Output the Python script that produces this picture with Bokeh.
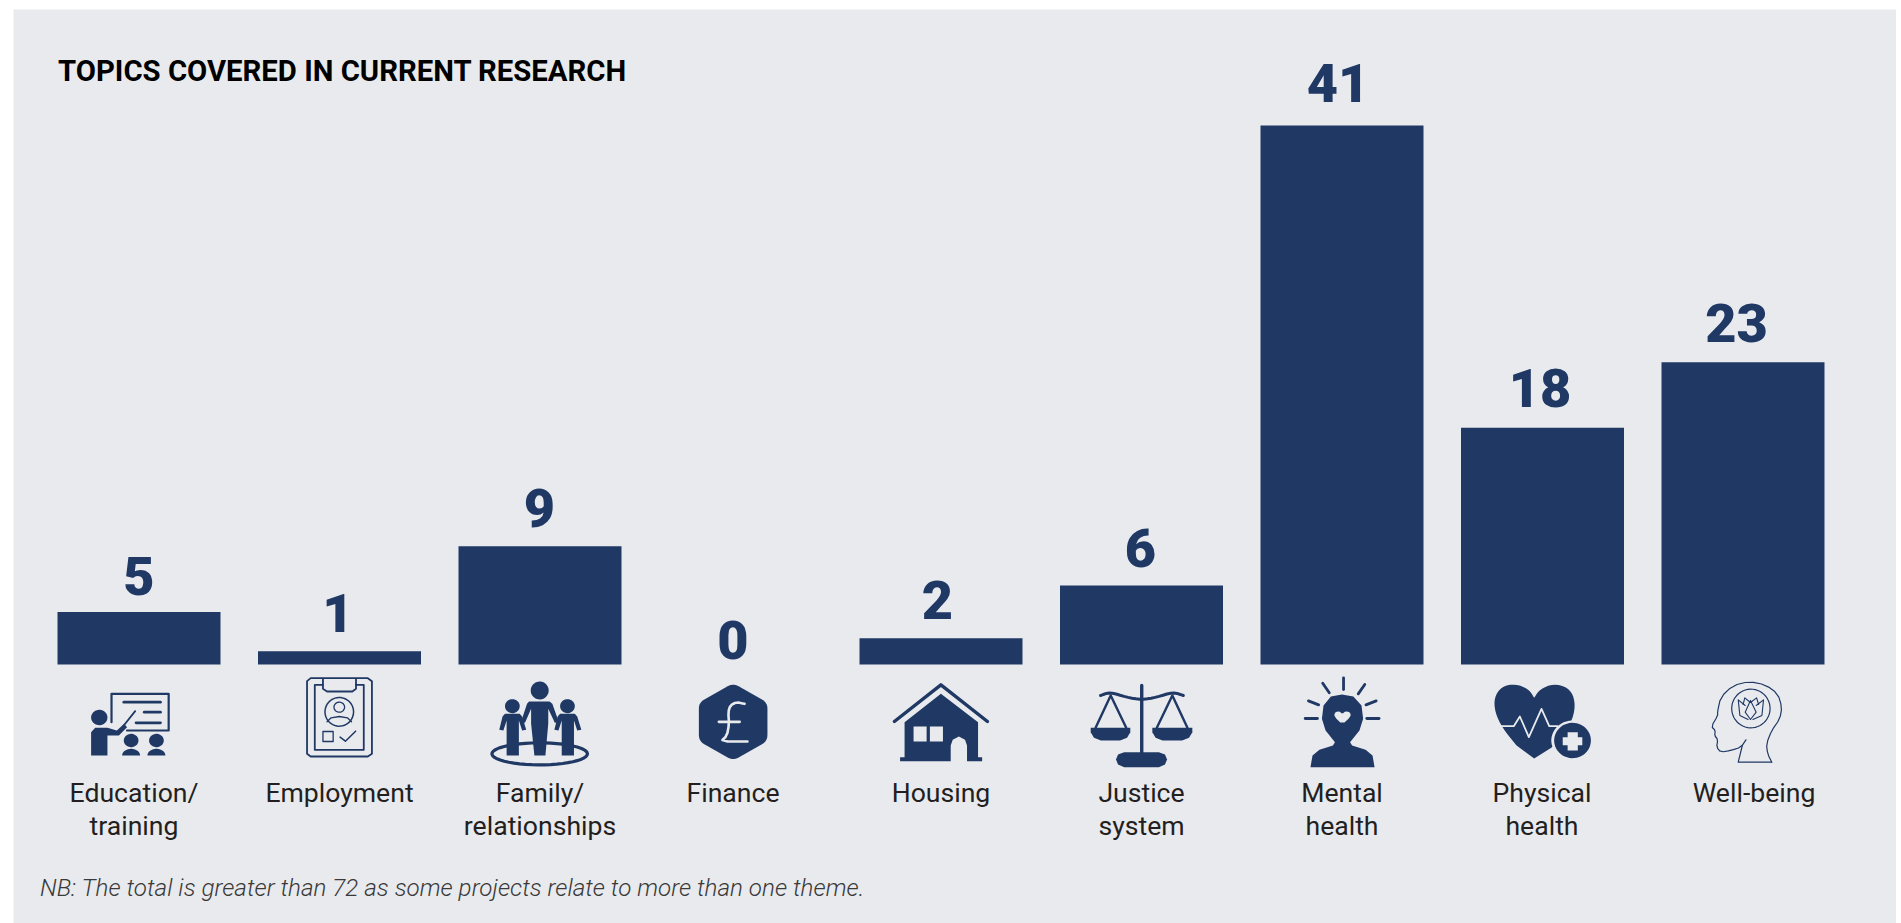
from bokeh.plotting import figure
from bokeh.models import Range1d, ColumnDataSource
from bokeh.core.properties import value
from bokeh.embed import file_html
from bokeh.resources import INLINE
import numpy as np

# ---- data ----
categories = ["Education/\ntraining", "Employment", "Family/\nrelationships", "Finance", "Housing",
              "Justice\nsystem", "Mental\nhealth", "Physical\nhealth", "Well-being"]
value_labels = [5, 1, 9, 0, 2, 6, 41, 18, 23]
# The reference prints "5" above its first bar but draws that bar only 4 units tall.
bar_heights = [4, 1, 9, 0, 2, 6, 41, 18, 23]
title_text = "TOPICS COVERED IN CURRENT RESEARCH"
note_text = "NB: The total is greater than 72 as some projects relate to more than one theme."

# ---- layout ----
NAVY, PANEL, INK = "#1F3864", "#E9EAEE", "#231F20"
L, R, T, B = 13, 1896, 9, 923
X0, DX, BASE, UNIT = 138.5, 200.5, 664, 539 / 41
BAR_W = 163 / DX
NUM_SHIFT = 21
num_dx = [0, -1.5, -0.5, -7.5, -3.5, -1, -4, -2.5, -6.5]
num_gap = [15, 17, 17, 4, 17, 17, 22, 19, 18]
lab_dx = [-5, 0, 0, -7.5, 0, 0, 0, -0.5, 11]

p = figure(width=1896, height=923, output_backend="svg", toolbar_location=None,
           x_axis_type=None, y_axis_type=None,
           x_range=Range1d((L - X0) / DX, (R - X0) / DX),
           y_range=Range1d((BASE - B) / UNIT, (BASE - T) / UNIT),
           min_border_left=L, min_border_top=T, min_border_right=0, min_border_bottom=0)
p.extra_x_ranges["px"] = Range1d(L, R)
p.extra_y_ranges["px"] = Range1d(B, T)
p.background_fill_color = PANEL
p.border_fill_color = "#FFFFFF"
p.outline_line_color = None
p.grid.visible = False

idx = list(range(len(categories)))
src = ColumnDataSource(dict(x=idx, h=bar_heights, cat=categories,
                            num=[str(v) for v in value_labels],
                            ndx=num_dx, ngap=[-(g + NUM_SHIFT) for g in num_gap], ldx=lab_dx,
                            ly=[776] * len(idx)))
p.vbar(x="x", top="h", bottom=0, width=BAR_W, source=src, fill_color=NAVY, line_color=None)
p.text(x="x", y="h", text="num", x_offset="ndx", y_offset="ngap", source=src, text_align="center",
       text_baseline="alphabetic", text_font=value("Roboto Black"), text_font_size="54px",
       text_font_style="normal", text_color=NAVY)
p.text(x="x", y="ly", y_range_name="px", text="cat", x_offset="ldx", source=src, text_align="center",
       text_baseline="top", text_font=value("Roboto"), text_font_size="26.6px", text_color=INK,
       text_line_height=1.09)

px = dict(x_range_name="px", y_range_name="px")
p.text(x=[57.5], y=[70], text=[title_text], text_font=value("Roboto"), text_font_style="bold",
       text_font_size="29.3px", text_color="#000000", text_baseline="alphabetic", **px)
p.text(x=[39.5], y=[887], text=[note_text], text_font=value("Roboto Light"), text_font_style="italic",
       text_font_size="24.25px", text_color="#3A3A3A", text_baseline="alphabetic", **px)


# ---- icon helpers: coordinates below are read in zoom-crop space ----
def ellipse(cx, cy, rx, ry, a0=0, a1=360, n=48):
    t = np.radians(np.linspace(a0, a1, n))
    return [(cx + rx * np.cos(v), cy + ry * np.sin(v)) for v in t]


def chaikin(pts, n, closed=True):
    q = [tuple(v) for v in pts]
    for _ in range(n):
        r = []
        m = len(q) if closed else len(q) - 1
        if not closed:
            r.append(q[0])
        for i in range(m):
            a, b = q[i], q[(i + 1) % len(q)]
            r.append((0.75 * a[0] + 0.25 * b[0], 0.75 * a[1] + 0.25 * b[1]))
            r.append((0.25 * a[0] + 0.75 * b[0], 0.25 * a[1] + 0.75 * b[1]))
        if not closed:
            r.append(q[-1])
        q = r
    return q


def rounded(pts, f=0.16):
    out = []
    n = len(pts)
    for i in range(n):
        c = np.array(pts[i], float)
        a = np.array(pts[i - 1], float)
        b = np.array(pts[(i + 1) % n], float)
        s, e = c + (a - c) * f, c + (b - c) * f
        for t in np.linspace(0, 1, 6):
            out.append(tuple((1 - t) ** 2 * s + 2 * t * (1 - t) * c + t ** 2 * e))
    return out


class Crop:
    def __init__(self, x0):
        self.x0 = x0

    def xy(self, pts):
        a = np.array(pts, float)
        return list(self.x0 + a[:, 0] / 2.45), list(640 + a[:, 1] / 3)

    def fill(self, pts, color=NAVY, smooth=0):
        x, y = self.xy(chaikin(pts, smooth) if smooth else pts)
        p.patch(x, y, fill_color=color, line_color=None, **px)

    def line(self, pts, w=2.0, color=NAVY, smooth=0, closed=False):
        q = chaikin(pts, smooth, closed) if smooth else pts
        if closed:
            q = list(q) + [q[0]]
        x, y = self.xy(q)
        p.line(x, y, line_color=color, line_width=w, line_cap="round", line_join="round", **px)

    def ell(self, cx, cy, rx, ry, color=NAVY):
        self.fill(ellipse(cx, cy, rx, ry), color)

    def ring(self, cx, cy, rx, ry, w=1.5, color=NAVY):
        q = ellipse(cx, cy, rx, ry)
        self.line(q + [q[0]], w, color)


a = Crop(0)
# education
a.line([(272, 245), (272, 160), (412, 160), (412, 270), (310, 270)], 2.2)
a.line([(302, 185), (392, 185)], 2.6)
a.line([(352, 215), (392, 215)], 2.6)
a.line([(332, 247), (392, 247)], 2.6)
a.line([(300, 258), (330, 212)], 1.8)
a.ell(242, 231, 20, 23)
a.fill([(222, 345), (222, 275), (232, 262), (262, 262), (285, 270), (303, 250), (310, 260), (290, 285),
        (262, 285), (262, 345)])
for cx in (320, 382):
    a.ell(cx, 300, 18, 20)
    a.fill(ellipse(cx, 345, 22, 20, 180, 360))
# employment
a.line([(751, 122), (760, 113), (900, 113), (910, 122), (910, 340), (900, 348), (760, 348), (751, 340), (751, 122)], 1.8)
a.line([(790, 133), (770, 133), (770, 328), (890, 328), (890, 133), (871, 133)], 1.8)
a.line([(790, 115), (790, 145), (800, 153), (862, 153), (871, 145), (871, 115)], 1.8)
a.ring(830, 214, 35, 43, 1.5)
a.ring(830, 200, 13, 15, 1.3)
a.line([(800, 244), (810, 232), (830, 228), (850, 232), (860, 244)], 1.3)
a.line([(790, 273), (815, 273), (815, 303), (790, 303), (790, 273)], 1.3)
a.line([(832, 290), (845, 302), (870, 272)], 1.5)
# family
a.ring(1321, 340, 117, 33, 3.2)
a.ell(1321, 150, 22, 27)
a.fill([(1295, 183), (1345, 183), (1352, 190), (1368, 245), (1358, 247), (1342, 205), (1342, 250), (1335, 345),
        (1308, 345), (1300, 250), (1300, 205), (1285, 247), (1275, 245), (1290, 190)])
for dx in (0, 135):
    a.ell(1254 + dx, 197, 18, 21)
    a.fill([(1236 + dx, 220), (1272 + dx, 220), (1278 + dx, 228), (1288 + dx, 268), (1278 + dx, 270), (1270 + dx, 240),
            (1270 + dx, 345), (1240 + dx, 345), (1240 + dx, 240), (1232 + dx, 270), (1222 + dx, 268), (1230 + dx, 228)])

b = Crop(640)
# finance
b.fill(rounded([(227, 128), (311, 186), (311, 302), (227, 360), (143, 302), (143, 186)]))
b.line([(255, 190), (235, 185), (220, 195), (215, 215), (217, 250), (212, 285), (197, 303), (262, 303)], 2.6, PANEL, smooth=1)
b.line([(192, 244), (243, 244)], 2.6, PANEL)
# housing
b.line([(622, 243), (736, 133), (850, 243)], 3.4)
b.fill([(736, 160), (827, 245), (827, 350), (837, 350), (837, 362), (800, 362), (800, 315), (795, 298), (780, 288),
        (765, 298), (760, 315), (760, 362), (636, 362), (636, 350), (647, 350), (647, 245)])
b.fill([(669, 258), (701, 258), (701, 303), (669, 303)], PANEL)
b.fill([(709, 258), (741, 258), (741, 303), (709, 303)], PANEL)
# justice
b.line([(1228, 135), (1228, 340)], 3.4)
b.fill([(1185, 335), (1270, 335), (1285, 342), (1290, 357), (1285, 372), (1270, 380), (1185, 380), (1170, 372),
        (1165, 357), (1170, 342)])
b.line([(1127, 165), (1150, 155), (1190, 170), (1228, 178), (1265, 170), (1305, 155), (1330, 165)], 3.0, smooth=2)
for ax, lx, rx, x0, x1 in ((1152, 1115, 1190, 1103, 1200), (1303, 1265, 1340, 1254, 1352)):
    b.line([(lx, 262), (ax, 165), (rx, 262)], 2.4)
    b.fill([(x0, 262), (x1, 262), (x1, 275), (x1 - 8, 292), (x1 - 25, 300), (x0 + 25, 300), (x0 + 8, 292), (x0, 275)])

c = Crop(1261)
# mental health
c.fill([(197, 162), (225, 168), (245, 195), (249, 235), (240, 270), (217, 305), (222, 315), (255, 328), (272, 345),
        (277, 380), (120, 380), (125, 345), (142, 328), (175, 315), (180, 305), (157, 270), (148, 235), (152, 195),
        (170, 168)])
c.fill([(198, 252), (178, 228), (180, 215), (190, 212), (198, 220), (206, 212), (217, 215), (219, 228)], PANEL, smooth=1)
for s in ([(201, 112), (201, 147)], [(150, 128), (166, 157)], [(253, 132), (237, 160)], [(115, 181), (140, 193)],
          [(281, 181), (256, 193)], [(107, 234), (137, 234)], [(258, 234), (288, 234)]):
    c.line(s, 2.8)
# physical health: two lobes meeting in a sharp notch
heart = chaikin([(668, 172), (655, 146), (622, 130), (588, 138), (570, 172), (572, 215), (590, 262), (625, 315)], 2, closed=False) + \
    [(668, 354)] + \
    chaikin([(710, 322), (745, 280), (767, 220), (767, 172), (750, 140), (715, 130), (682, 146), (668, 172)], 2, closed=False)
c.fill(heart)
c.line([(583, 257), (618, 257), (633, 228), (655, 290), (686, 205), (705, 257), (725, 257)], 1.8, PANEL)
c.ell(762, 300, 52, 60, PANEL)
c.ell(762, 300, 45, 53)
c.fill([(750, 275), (775, 275), (775, 290), (786, 290), (786, 314), (775, 314), (775, 330), (750, 330), (750, 314),
        (738, 314), (738, 290), (750, 290)], PANEL)
# well-being
c.line([(1187, 298), (1175, 320), (1150, 330), (1125, 335), (1115, 320), (1118, 297), (1110, 285), (1112, 270),
        (1102, 258), (1118, 225), (1117, 215), (1125, 170), (1155, 135), (1195, 123), (1235, 133), (1265, 160),
        (1275, 200), (1270, 235), (1250, 270), (1237, 310), (1240, 340), (1250, 365)], 1.2, smooth=1, closed=False)
c.line([(1178, 315), (1168, 365), (1250, 365)], 1.2)
c.ring(1199, 204, 47, 58, 1.2)
c.line([(1198, 237), (1185, 215), (1198, 180), (1212, 215), (1198, 237)], 1.1)
c.line([(1192, 237), (1172, 225), (1168, 178), (1185, 195)], 1.1)
c.line([(1204, 237), (1226, 225), (1230, 178), (1212, 195)], 1.1)
c.line([(1180, 192), (1184, 172), (1198, 186), (1213, 172), (1218, 192)], 1.1)

open("out.html", "w").write(file_html(p, INLINE))
